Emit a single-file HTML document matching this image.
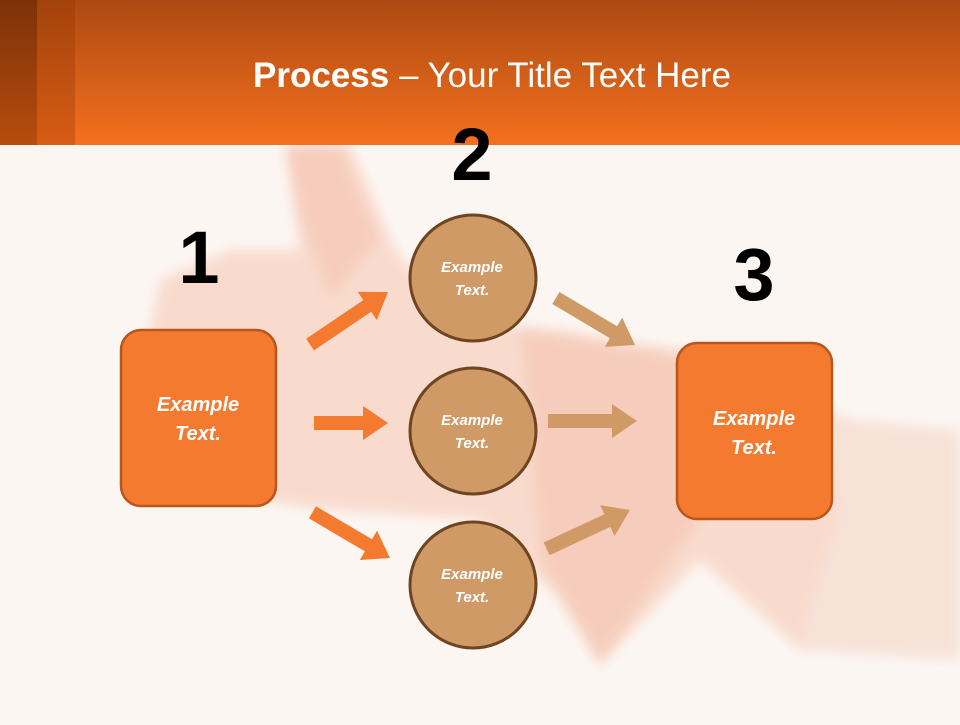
<!DOCTYPE html>
<html><head><style>
html,body{margin:0;padding:0;}
body{width:960px;height:720px;overflow:hidden;background:#fcf6f2;font-family:"Liberation Sans",sans-serif;}
</style></head><body>
<svg width="960" height="720" xmlns="http://www.w3.org/2000/svg">
<defs>
<linearGradient id="hd" x1="0" y1="0" x2="0" y2="1"><stop offset="0" stop-color="#ad4a12"/><stop offset="1" stop-color="#f4701e"/></linearGradient>
<linearGradient id="s1" x1="0" y1="0" x2="0" y2="1"><stop offset="0" stop-color="#7c3208"/><stop offset="1" stop-color="#b84c0e"/></linearGradient>
<linearGradient id="s2" x1="0" y1="0" x2="0" y2="1"><stop offset="0" stop-color="#a3420b"/><stop offset="1" stop-color="#d85c14"/></linearGradient>
<filter id="bl"><feGaussianBlur stdDeviation="6"/></filter>
</defs>
<rect width="960" height="720" fill="#fcf6f2"/>
<!-- faint hand -->
<g filter="url(#bl)">
<g fill="#f6c9b6" opacity="0.6">
<path d="M285 145 L350 145 L395 250 L460 320 L560 330 L700 360 L850 420 L960 430 L960 660 L800 650 L700 560 L600 665 L560 600 L480 520 L330 510 L250 500 L200 430 L150 330 L160 280 L230 250 L300 250 Z"/>
</g>
<g fill="#f0b39c" opacity="0.35">
<path d="M285 145 L340 145 L380 240 L330 300 L300 220 Z"/>
<path d="M520 330 L690 350 L700 520 L600 665 L540 560 Z"/>
</g>
<g fill="#f7e2d8"><path d="M830 420 L960 430 L960 660 L800 650 L840 520 Z"/></g>
</g>
<!-- header -->
<rect x="0" y="0" width="960" height="145" fill="url(#hd)"/>
<rect x="0" y="0" width="37" height="145" fill="url(#s1)"/>
<rect x="37" y="0" width="38" height="145" fill="url(#s2)"/>
<text x="492" y="87" text-anchor="middle" fill="#fff" font-size="35"><tspan font-weight="bold">Process</tspan> – Your Title Text Here</text>
<!-- numbers -->
<g font-weight="bold" font-size="74" fill="#000" text-anchor="middle">
<text x="199" y="283">1</text>
<text x="472" y="180">2</text>
<text x="754" y="300">3</text>
</g>
<!-- arrows -->
<g fill="#f47a30">
<polygon transform="translate(388,292) rotate(-34)" points="0,0 -25,-17 -25,-7 -94,-7 -94,7 -25,7 -25,17"/>
<polygon transform="translate(388,423)" points="0,0 -25,-17 -25,-7 -74,-7 -74,7 -25,7 -25,17"/>
<polygon transform="translate(390,558) rotate(30.5)" points="0,0 -25,-17 -25,-7 -90,-7 -90,7 -25,7 -25,17"/>
</g>
<g fill="#cf9a66">
<polygon transform="translate(635,345) rotate(30.7)" points="0,0 -25,-17 -25,-7 -92,-7 -92,7 -25,7 -25,17"/>
<polygon transform="translate(637,421)" points="0,0 -25,-17 -25,-7 -89,-7 -89,7 -25,7 -25,17"/>
<polygon transform="translate(630,510) rotate(-25)" points="0,0 -25,-17 -25,-7 -92,-7 -92,7 -25,7 -25,17"/>
</g>
<!-- boxes -->
<rect x="121" y="330" width="155" height="176" rx="20" fill="#f47a30" stroke="#b9561c" stroke-width="2.5"/>
<rect x="677" y="343" width="155" height="176" rx="20" fill="#f47a30" stroke="#b9561c" stroke-width="2.5"/>
<!-- circles -->
<g fill="#cf9a66" stroke="#6e4520" stroke-width="3">
<circle cx="473" cy="278" r="63"/>
<circle cx="473" cy="431" r="63"/>
<circle cx="473" cy="585" r="63"/>
</g>
<g fill="#fff" font-weight="bold" font-style="italic" text-anchor="middle">
<g font-size="20">
<text x="198" y="411">Example</text><text x="198" y="440">Text.</text>
<text x="754" y="425">Example</text><text x="754" y="454">Text.</text>
</g>
<g font-size="15">
<text x="472" y="272">Example</text><text x="472" y="295">Text.</text>
<text x="472" y="425">Example</text><text x="472" y="448">Text.</text>
<text x="472" y="579">Example</text><text x="472" y="602">Text.</text>
</g>
</g>
</svg>
</body></html>
